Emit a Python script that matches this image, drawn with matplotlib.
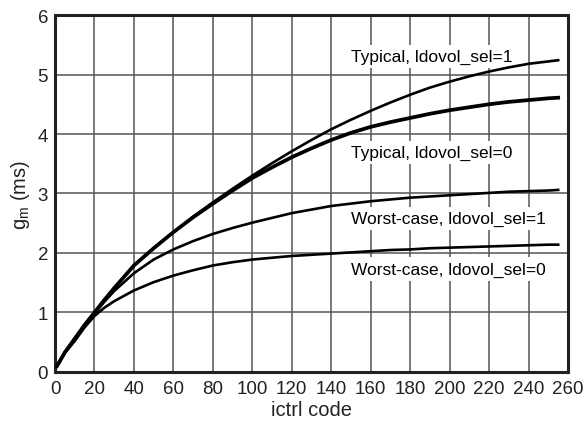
import matplotlib.pyplot as plt

# gm vs ictrl code
ictrl = [1, 5, 10, 15, 20, 25, 30, 40, 50, 60, 70, 80, 90, 100, 110, 120, 130, 140,
         150, 160, 170, 180, 190, 200, 210, 220, 230, 240, 250, 255]
typical_sel1 = [0.10, 0.33, 0.56, 0.79, 1.00, 1.21, 1.41, 1.79, 2.08, 2.35, 2.61, 2.85, 3.08, 3.30, 3.51, 3.71, 3.90, 4.08,
                4.24, 4.39, 4.53, 4.66, 4.78, 4.88, 4.97, 5.05, 5.12, 5.18, 5.22, 5.24]
typical_sel0 = [0.10, 0.33, 0.56, 0.79, 1.00, 1.21, 1.41, 1.79, 2.08, 2.35, 2.60, 2.83, 3.05, 3.26, 3.44, 3.61, 3.76, 3.90,
                4.02, 4.12, 4.20, 4.27, 4.34, 4.40, 4.45, 4.50, 4.54, 4.57, 4.60, 4.61]
worst_sel1 = [0.10, 0.33, 0.55, 0.78, 0.98, 1.18, 1.36, 1.66, 1.89, 2.06, 2.20, 2.32, 2.42, 2.51, 2.59, 2.67, 2.73, 2.79,
              2.83, 2.87, 2.90, 2.93, 2.95, 2.97, 2.99, 3.01, 3.03, 3.04, 3.05, 3.06]
worst_sel0 = [0.10, 0.32, 0.52, 0.75, 0.94, 1.08, 1.19, 1.37, 1.51, 1.62, 1.71, 1.79, 1.845, 1.89, 1.92, 1.95, 1.97, 1.99,
              2.01, 2.03, 2.05, 2.06, 2.08, 2.09, 2.10, 2.11, 2.12, 2.13, 2.14, 2.14]

curve_labels = [
    "Typical, ldovol_sel=1",
    "Typical, ldovol_sel=0",
    "Worst-case, ldovol_sel=1",
    "Worst-case, ldovol_sel=0",
]
label_y = [5.30, 3.69, 2.58, 1.73]

x_ticks = list(range(0, 261, 20))
y_ticks = list(range(0, 7))

plt.rcParams["font.family"] = ["Liberation Sans", "DejaVu Sans"]

fig = plt.figure(figsize=(5.87, 4.27), dpi=100)
ax = fig.add_axes([0.0937, 0.1265, 0.874, 0.836])

ax.plot(ictrl, typical_sel1, color="black", lw=1.9, zorder=3)
ax.plot(ictrl, typical_sel0, color="black", lw=2.7, zorder=3)
ax.plot(ictrl, worst_sel1, color="black", lw=1.9, zorder=3)
ax.plot(ictrl, worst_sel0, color="black", lw=1.9, zorder=3)

for text, y in zip(curve_labels, label_y):
    ax.text(150, y, text, fontsize=12.5, ha="left", va="center", zorder=2,
            bbox=dict(facecolor="white", edgecolor="none", pad=3))

ax.set_xlim(0, 260)
ax.set_ylim(0, 6)
ax.set_xticks(x_ticks)
ax.set_yticks(y_ticks)
ax.tick_params(length=0, labelsize=13.5, colors="#222222")
ax.tick_params(axis="x", pad=6)
ax.tick_params(axis="y", pad=5)
ax.grid(True, color="#555555", lw=1.1, zorder=1)
ax.set_axisbelow(True)
for spine in ax.spines.values():
    spine.set_linewidth(2.2)
    spine.set_color("#222222")

ax.set_xlabel("ictrl code", fontsize=14.5, color="#222222", labelpad=2)
ax.set_ylabel(r"g$_\mathregular{m}$ (ms)", fontsize=14.5, color="#222222", labelpad=4)

fig.savefig("out.png", dpi=100)
